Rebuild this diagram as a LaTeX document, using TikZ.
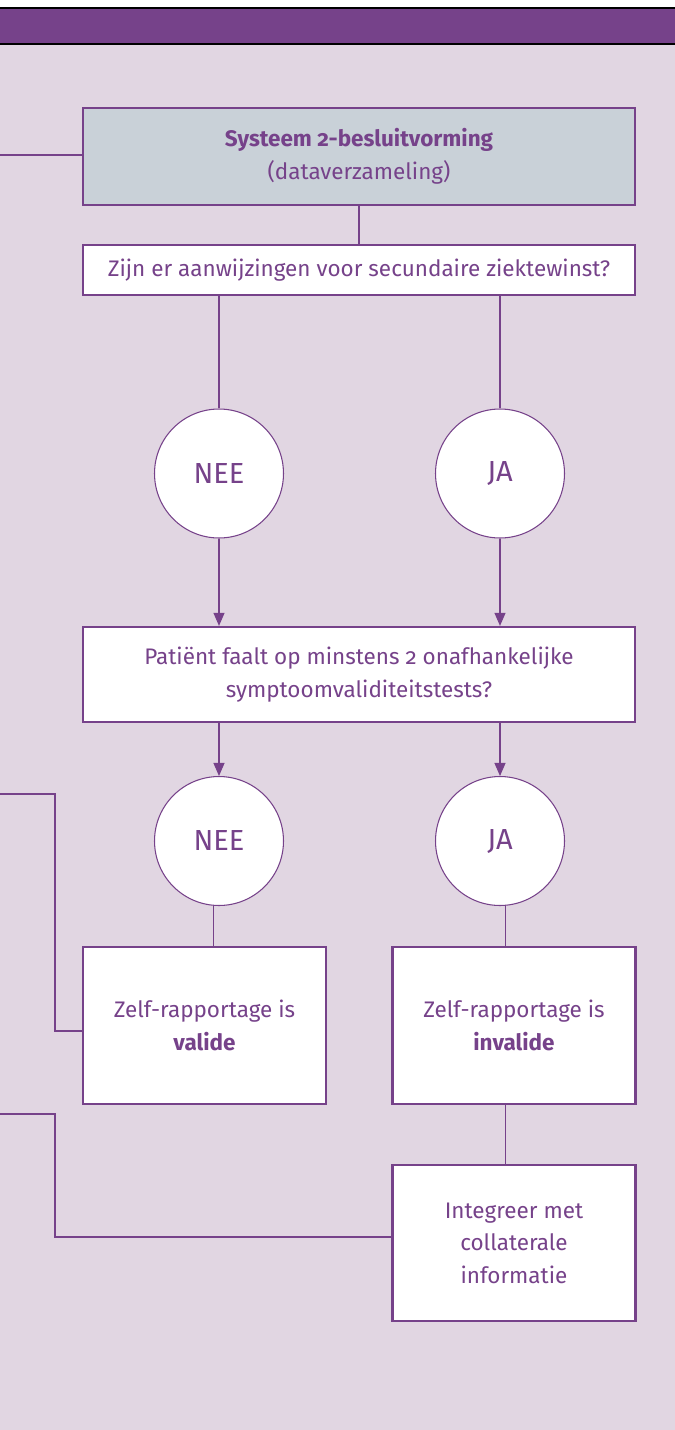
\documentclass[tikz,border=0pt]{standalone}
\usepackage{fontspec}
\setmainfont{Fira Sans}[Numbers=OldStyle]
\usepackage{xcolor}
\usepackage{tikz}
\usetikzlibrary{arrows.meta,positioning}
\definecolor{paars}{HTML}{76428A}
\definecolor{lila}{HTML}{E1D6E2}
\definecolor{grijs}{HTML}{C9D1D8}
\tikzset{
  vraag/.style={draw=paars,fill=white,line width=1.3pt,text=paars,
                align=center,inner sep=4pt,font=\fontsize{12.8}{18.5}\selectfont},
  kop/.style={vraag,fill=grijs},
  keuze/.style={circle,draw=paars,fill=white,line width=0.6pt,text=paars,
                minimum size=2.58cm,inner sep=0pt,font=\fontsize{16.5}{19}\selectfont},
  lijn/.style={paars,line width=0.6pt},
  pijl/.style={lijn,-{Triangle[length=2.6mm,width=2.2mm]}},
}

\begin{document}
\begin{tikzpicture}[x=0.02cm,y=-0.02cm]
  \useasboundingbox (0,0) rectangle (675,1430);
  % Background and title bar
  \fill[lila] (0,0) rectangle (675,1430);
  \fill[white] (0,0) rectangle (675,8);
  \fill[paars] (0,8) rectangle (675,44);
  \draw[black,line width=0.8pt] (0,8)--(675,8) (0,44)--(675,44);

  % Boxes
  \node[kop,minimum width=11.04cm,minimum height=1.94cm] (sys) at (359,156.5)
    {\textbf{Systeem 2-besluitvorming}\\(dataverzameling)};
  \node[vraag,minimum width=11.04cm,minimum height=1cm] (vraag1) at (359,270)
    {Zijn er aanwijzingen voor secundaire ziektewinst?};
  \node[vraag,minimum width=11.04cm,minimum height=1.9cm] (vraag2) at (359,674.5)
    {Patiënt faalt op minstens 2 onafhankelijke\\symptoomvaliditeitstests?};
  \node[vraag,minimum width=4.86cm,minimum height=3.14cm] (valide) at (204.5,1025.5)
    {Zelf-rapportage is\\\textbf{valide}};
  \node[vraag,minimum width=4.86cm,minimum height=3.14cm] (invalide) at (514,1025.5)
    {Zelf-rapportage is\\\textbf{invalide}};
  \node[vraag,minimum width=4.86cm,minimum height=3.12cm] (integr) at (514,1243)
    {Integreer met\\collaterale\\informatie};

  % Yes/no circles
  \node[keuze] (nee1) at (219,473.5) {NEE};
  \node[keuze] (ja1) at (500,473.5) {JA};
  \node[keuze] (nee2) at (219,841) {NEE};
  \node[keuze] (ja2) at (500,841) {JA};

  % Incoming lines from the left edge
  \coordinate (inA) at (0,155);
  \coordinate (inB) at (0,794);
  \coordinate (inC) at (0,1114);
  \draw[lijn] (inA) -- (sys.west |- inA);
  \draw[lijn] (inB) -| (55,1031) -- (valide.west |- 0,1031);
  \draw[lijn] (inC) -| (55,1237) -- (integr.west |- 0,1237);

  % Connectors
  \draw[lijn] (sys.south) -- (vraag1.north);
  \draw[lijn] (nee1 |- vraag1.south) -- (nee1);
  \draw[lijn] (ja1 |- vraag1.south) -- (ja1);
  \draw[pijl] (nee1) -- (nee1 |- vraag2.north);
  \draw[pijl] (ja1) -- (ja1 |- vraag2.north);
  \draw[pijl] (nee2 |- vraag2.south) -- (nee2);
  \draw[pijl] (ja2 |- vraag2.south) -- (ja2);
  \draw[lijn] (nee2.-95) -- (nee2.-95 |- valide.north);
  \draw[lijn] (ja2.-85) -- (ja2.-85 |- invalide.north);
  \draw[lijn] (ja2.-85 |- invalide.south) -- (ja2.-85 |- integr.north);
\end{tikzpicture}
\end{document}
